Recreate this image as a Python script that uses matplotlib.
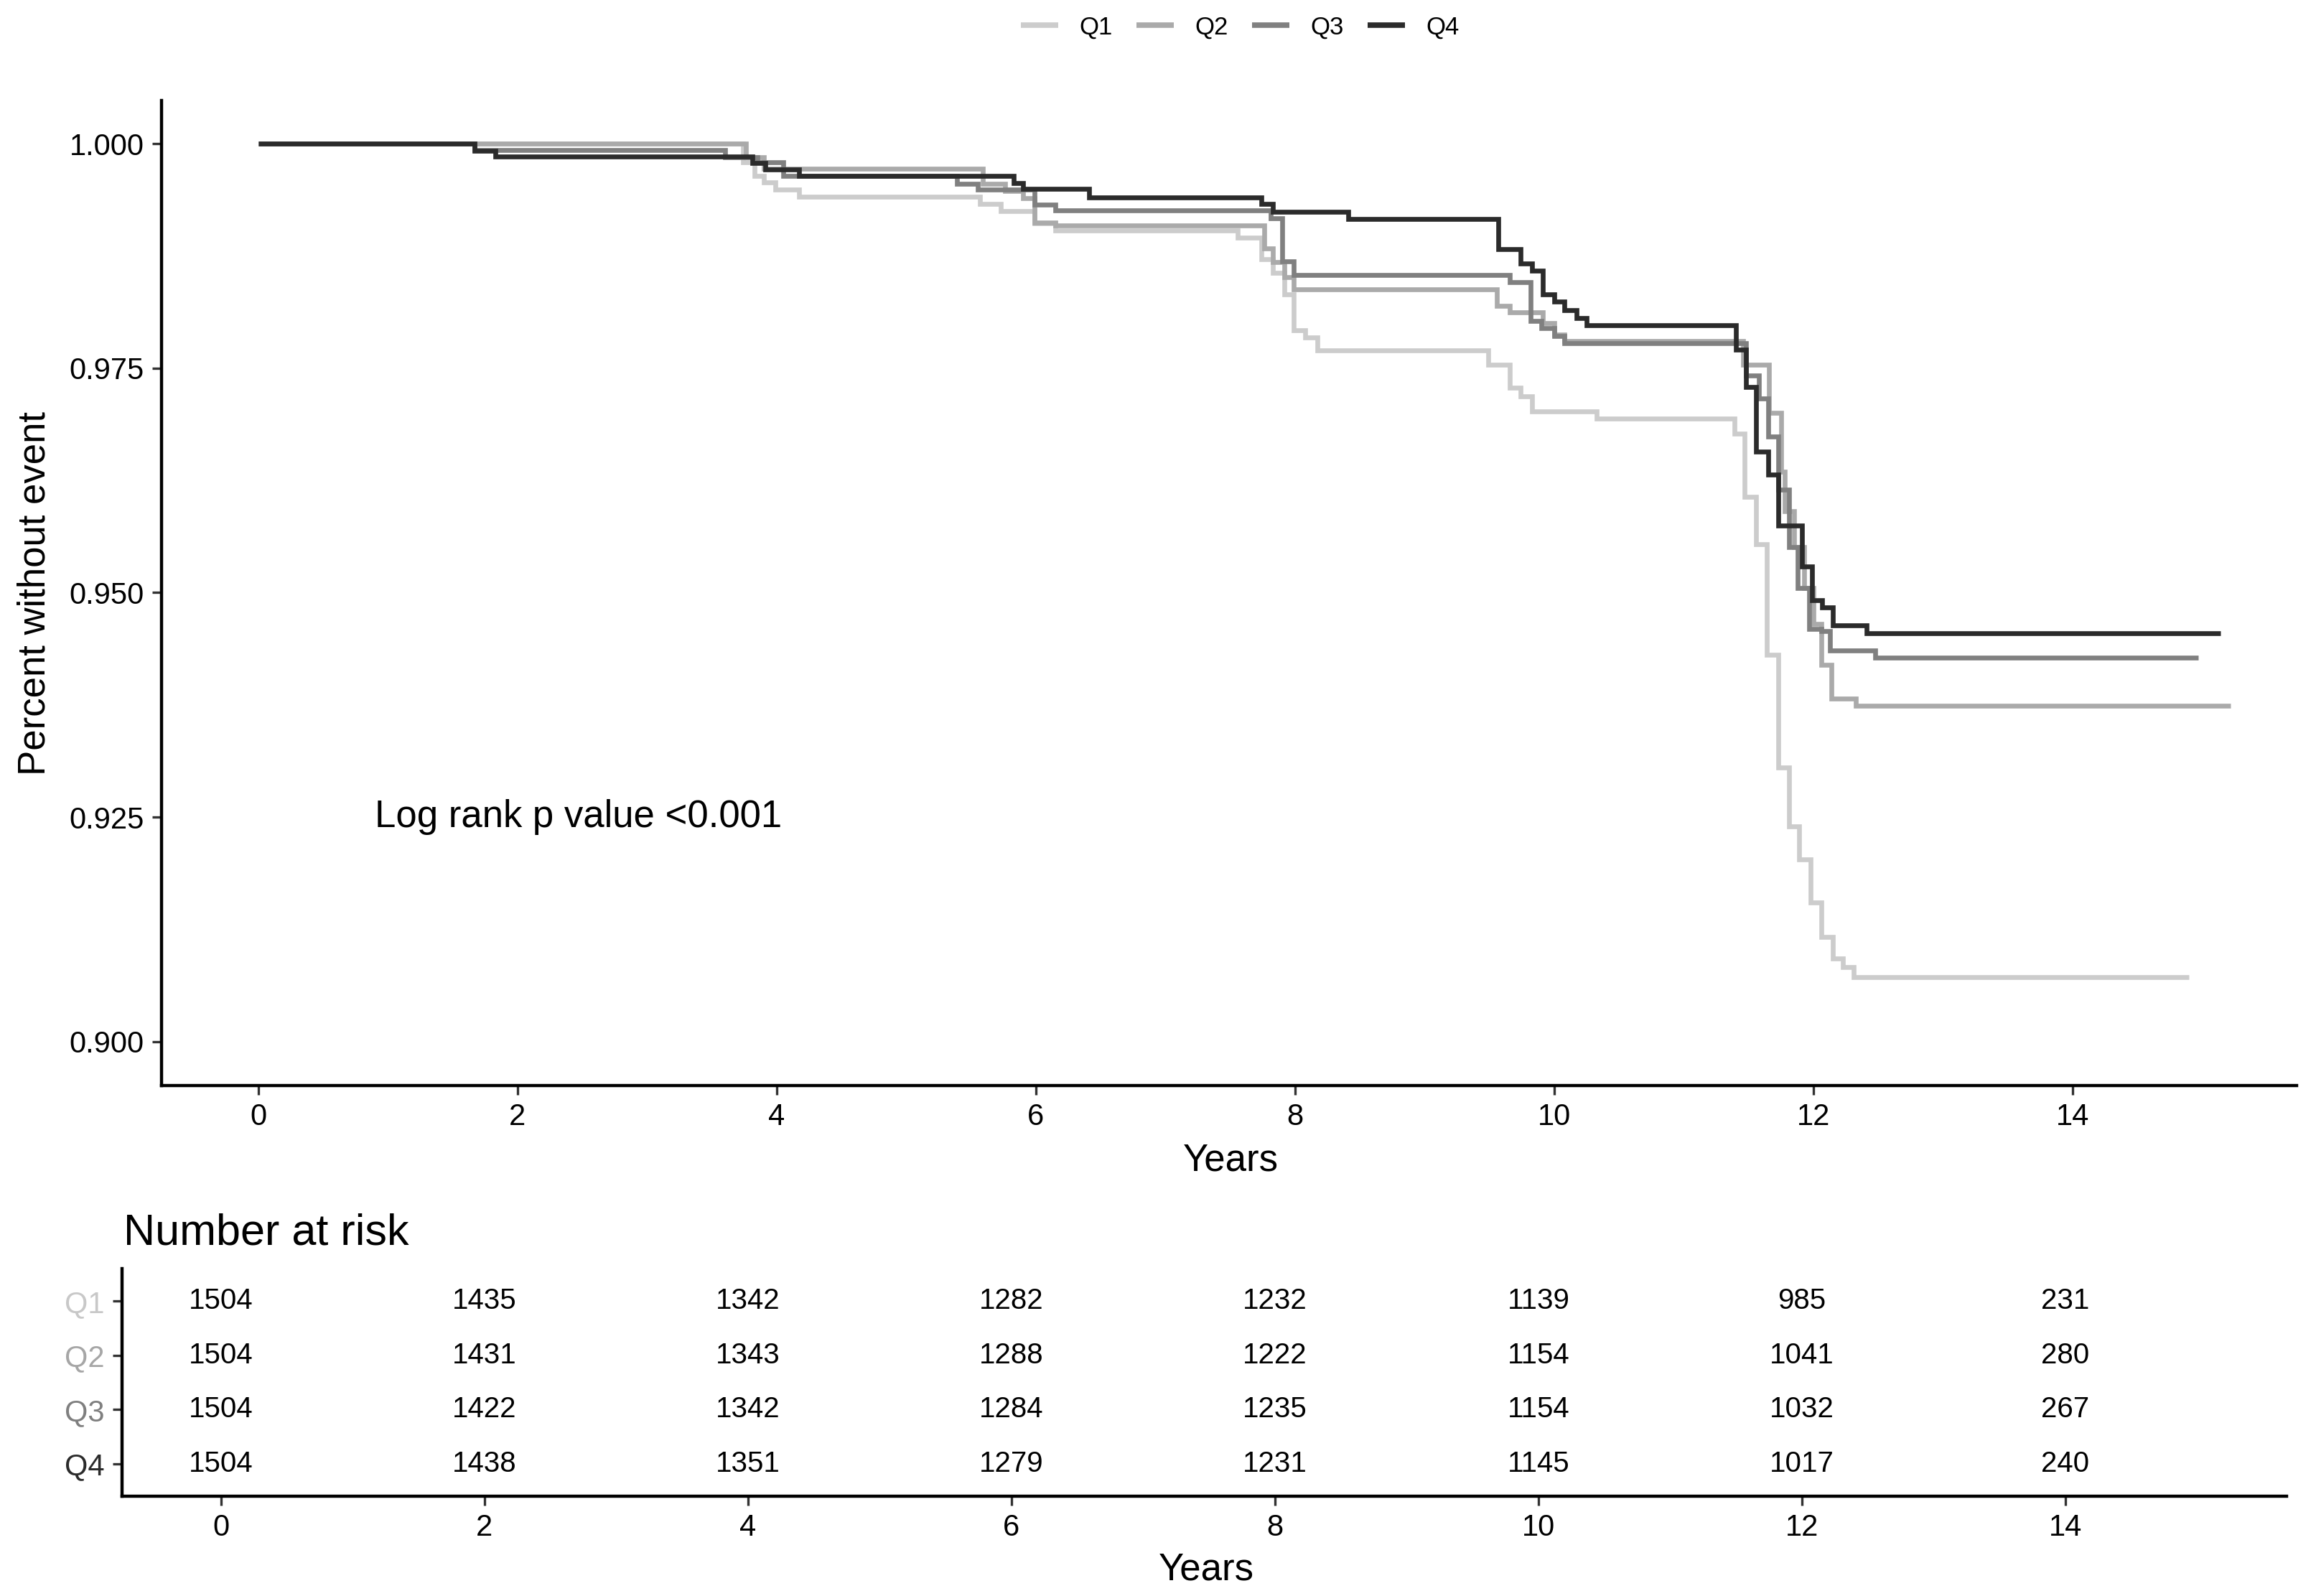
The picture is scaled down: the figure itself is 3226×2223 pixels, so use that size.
import matplotlib
matplotlib.use('Agg')
import matplotlib.pyplot as plt
from matplotlib.lines import Line2D

plt.rcParams['font.family'] = ['Liberation Sans', 'DejaVu Sans']

groups = ['Q1', 'Q2', 'Q3', 'Q4']
colors = ['#cccccc', '#aaaaaa', '#808080', '#2b2b2b']
label_colors = ['#c8c8c8', '#a6a6a6', '#7f7f7f', '#2b2b2b']

# Kaplan-Meier step curves (time, survival after that time)
q1_t = [0, 3.74, 3.83, 3.90, 3.99, 4.17, 5.57, 5.73, 5.99, 6.15, 7.56, 7.74, 7.83, 7.92, 7.99, 8.08, 8.17,
        9.49, 9.66, 9.74, 9.83, 10.33, 11.39, 11.47, 11.56, 11.64, 11.73, 11.81, 11.89, 11.98, 12.06,
        12.15, 12.23, 12.31]
q1_s = [1.0, 0.9979, 0.9964, 0.9957, 0.9949, 0.9941, 0.9933, 0.9925, 0.9911, 0.9903, 0.9895, 0.9871,
        0.9856, 0.9832, 0.9792, 0.9784, 0.9770, 0.9754, 0.9728, 0.9719, 0.9702, 0.9694, 0.9677, 0.9607,
        0.9554, 0.9431, 0.9305, 0.9240, 0.9203, 0.9155, 0.9117, 0.9093, 0.9083, 0.9072]
q1_end = 14.90

q2_t = [0, 3.76, 3.90, 5.59, 5.76, 5.90, 5.99, 6.15, 7.76, 7.83, 7.92, 7.99, 9.56, 9.66, 9.91, 10.00,
        10.08, 11.46, 11.66, 11.75, 11.78, 11.85, 11.93, 12.00, 12.06, 12.14, 12.33]
q2_s = [1.0, 0.9985, 0.9972, 0.9955, 0.9947, 0.9939, 0.9912, 0.9909, 0.9883, 0.9868, 0.9851, 0.9838,
        0.9819, 0.9812, 0.9800, 0.9787, 0.9780, 0.97535, 0.9700, 0.9635, 0.9591, 0.9551, 0.9505, 0.9465,
        0.9420, 0.9382, 0.9374]
q2_end = 15.22

q3_t = [0, 1.67, 3.60, 3.85, 4.05, 5.39, 5.55, 5.99, 6.15, 7.81, 7.90, 7.99, 9.66, 9.82, 9.90, 10.00,
        10.08, 11.48, 11.58, 11.65, 11.73, 11.81, 11.88, 11.97, 12.06, 12.13, 12.48]
q3_s = [1.0, 0.99925, 0.9985, 0.9979, 0.9964, 0.9955, 0.9949, 0.9932, 0.99254, 0.9917, 0.9869, 0.98535,
        0.98455, 0.98028, 0.97948, 0.97855, 0.97775, 0.97415, 0.97162, 0.96741, 0.9615, 0.9551, 0.95054,
        0.94599, 0.9457, 0.94358, 0.94278]
q3_end = 14.97

q4_t = [0, 1.67, 1.83, 3.81, 3.91, 4.17, 5.83, 5.90, 6.41, 7.74, 7.83, 8.41, 9.57, 9.74, 9.83, 9.91,
        10.00, 10.08, 10.17, 10.25, 11.40, 11.48, 11.56, 11.65, 11.73, 11.91, 11.99, 12.07, 12.15, 12.41]
q4_s = [1.0, 0.9992, 0.99854, 0.99787, 0.99712, 0.9964, 0.9956, 0.99494, 0.99401, 0.99329, 0.99241,
        0.99161, 0.98828, 0.98668, 0.98588, 0.98321, 0.98241, 0.98148, 0.98055, 0.97975, 0.97705, 0.97287,
        0.9657, 0.96313, 0.9575, 0.95295, 0.9492, 0.9484, 0.94637, 0.94546]
q4_end = 15.14

# Number at risk table
risk_times = [0, 2, 4, 6, 8, 10, 12, 14]
risk_q1 = [1504, 1435, 1342, 1282, 1232, 1139, 985, 231]
risk_q2 = [1504, 1431, 1343, 1288, 1222, 1154, 1041, 280]
risk_q3 = [1504, 1422, 1342, 1284, 1235, 1154, 1032, 267]
risk_q4 = [1504, 1438, 1351, 1279, 1231, 1145, 1017, 240]

x_ticks = [0, 2, 4, 6, 8, 10, 12, 14]
y_ticks = [0.900, 0.925, 0.950, 0.975, 1.000]

curves = [(q1_t, q1_s, q1_end), (q2_t, q2_s, q2_end), (q3_t, q3_s, q3_end), (q4_t, q4_s, q4_end)]
risks = [risk_q1, risk_q2, risk_q3, risk_q4]

W, H = 3226, 2223
fig = plt.figure(figsize=(W / 100, H / 100), dpi=100)

# ---------------- main KM panel ----------------
L, R, T, B = 225, 3199, 140, 1512
ax = fig.add_axes([L / W, 1 - B / H, (R - L) / W, (B - T) / H])
lw = 4.8
for (t, s, end), c, g in zip(curves, colors, groups):
    ax.step(list(t) + [end], list(s) + [s[-1]], where='post', color=c, lw=lw,
            solid_joinstyle='miter', solid_capstyle='butt', label=g)

ax.set_xlim(-0.748, 15.73)
ax.set_ylim(0.89512, 1.0048)
ax.set_xticks(x_ticks)
ax.set_xticklabels([str(v) for v in x_ticks])
ax.set_yticks(y_ticks)
ax.set_yticklabels(['%.3f' % v for v in y_ticks])
for sp in ['top', 'right']:
    ax.spines[sp].set_visible(False)
for sp in ['left', 'bottom']:
    ax.spines[sp].set_linewidth(3.2)
    ax.spines[sp].set_color('black')
ax.tick_params(axis='both', length=9.5, width=2.4, color='#333333', labelsize=30, pad=8,
               labelcolor='black')
ax.set_xlabel('Years', fontsize=38)
ax.xaxis.set_label_coords(0.5007, -0.058)
ax.xaxis.label.set_va('top')
ax.set_ylabel('Percent without event', fontsize=38)
ax.yaxis.set_label_coords(-0.051, 0.5)
ax.text(0.90, 0.925, 'Log rank p value <0.001', fontsize=38, ha='left', va='center')

# legend on top
handles = [Line2D([], [], color=c, lw=lw * 1.15, solid_capstyle='butt') for c in colors]
fig.legend(handles, groups, loc='center', bbox_to_anchor=(1727 / W, 1 - 38 / H), ncol=4,
           frameon=False, fontsize=25, handlelength=1.5, handletextpad=0.85, columnspacing=0.95,
           borderaxespad=0)

# ---------------- risk table ----------------
tL, tR, tT, tB = 170, 3185, 1767, 2084
tab = fig.add_axes([tL / W, 1 - tB / H, (tR - tL) / W, (tB - tT) / H])
tab.set_xlim(-0.752, 15.68)
tab.set_ylim(4.6, 0.4)
for i, r in enumerate(risks):
    for t, n in zip(risk_times, r):
        tab.text(t, i + 1, str(n), ha='center', va='center', fontsize=29, color='black')
tab.set_xticks(x_ticks)
tab.set_xticklabels([str(v) for v in x_ticks])
tab.set_yticks([1, 2, 3, 4])
tab.set_yticklabels(groups)
for lbl, c in zip(tab.get_yticklabels(), label_colors):
    lbl.set_color(c)
for sp in ['top', 'right']:
    tab.spines[sp].set_visible(False)
for sp in ['left', 'bottom']:
    tab.spines[sp].set_linewidth(3.2)
    tab.spines[sp].set_color('black')
tab.tick_params(axis='both', length=9.5, width=2.4, color='#333333', labelsize=30, pad=8)
tab.tick_params(axis='x', labelcolor='black')
tab.set_xlabel('Years', fontsize=38)
tab.xaxis.set_label_coords(0.501, -0.245)
tab.xaxis.label.set_va('top')

fig.text(172 / W, 1 - 1734 / H, 'Number at risk', fontsize=44, ha='left', va='baseline')

fig.savefig('out.png', dpi=100, facecolor='white')
